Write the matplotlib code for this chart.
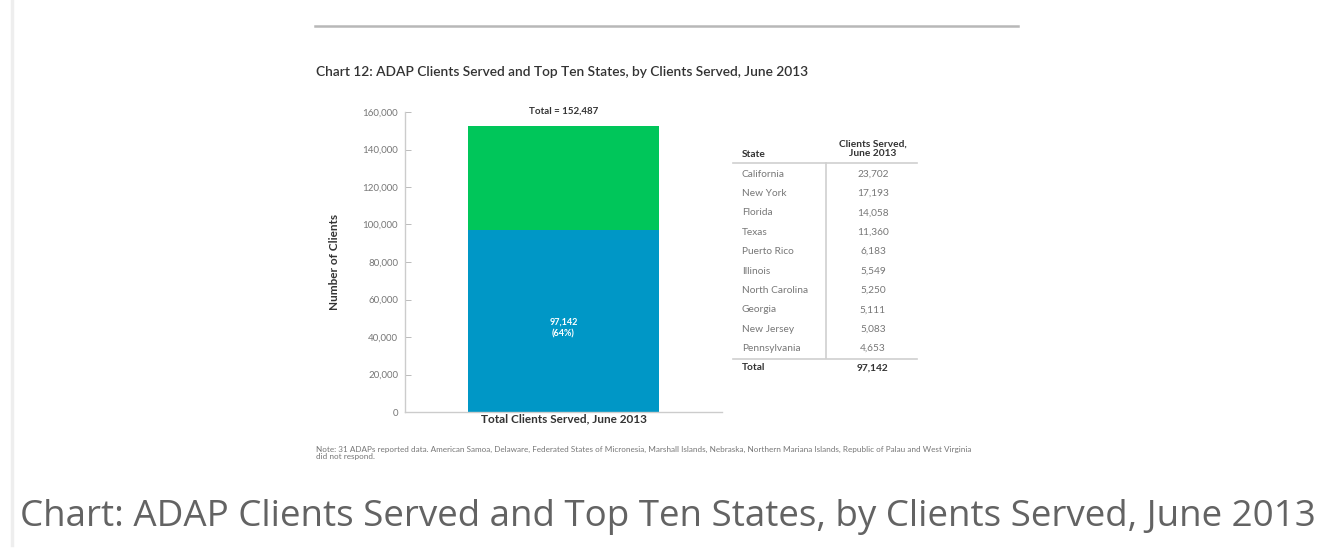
import matplotlib
matplotlib.use("Agg")
import matplotlib.pyplot as plt
from matplotlib.lines import Line2D

W, H = 1341, 556
FONT = ["Lato", "DejaVu Sans"]
BLUE, GREEN = "#0097c6", "#00c65a"

# data
total_served = 152487
top_ten_total = 97142
top_ten_share = 64
states = ["California", "New York", "Florida", "Texas", "Puerto Rico", "Illinois",
          "North Carolina", "Georgia", "New Jersey", "Pennsylvania"]
served = [23702, 17193, 14058, 11360, 6183, 5549, 5250, 5111, 5083, 4653]
yticks = [0, 20000, 40000, 60000, 80000, 100000, 120000, 140000, 160000]
category = "Total Clients Served, June 2013"

plt.rcParams["font.family"] = FONT
fig = plt.figure(figsize=(W / 100, H / 100), dpi=100)


def fx(x):
    return x / W


def fy(y):
    return 1 - y / H


def hline(x0, x1, y, color="#bdbdbd", lw=1.0):
    fig.add_artist(Line2D([fx(x0), fx(x1)], [fy(y), fy(y)], color=color, lw=lw,
                          transform=fig.transFigure))


def vline(x, y0, y1, color="#bdbdbd", lw=1.0):
    fig.add_artist(Line2D([fx(x), fx(x)], [fy(y0), fy(y1)], color=color, lw=lw,
                          transform=fig.transFigure))


# page decorations
vline(12, 0, 545, color="#eeeeee", lw=2.5)
hline(315, 1018, 26, color="#b8b8b8", lw=1.8)

fig.text(fx(316), fy(72), "Chart 12: ADAP Clients Served and Top Ten States, by Clients Served, June 2013",
         fontsize=9.9, color="#333333", va="center", ha="left", fontweight="semibold")

# bar chart
ax = fig.add_axes([fx(405), fy(412), fx(722) - fx(405), fy(112) - fy(412)])
ax.bar([0.5], [top_ten_total], width=0.6, color=BLUE)
ax.bar([0.5], [total_served - top_ten_total], bottom=[top_ten_total], width=0.6, color=GREEN)
ax.set_xlim(0, 1)
ax.set_ylim(0, 160000)
ax.set_yticks(yticks)
ax.set_yticklabels([f"{v:,}" for v in yticks], fontsize=7, color="#777777")
ax.set_xticks([])
ax.tick_params(axis="y", direction="in", length=4, width=0.7, color="#bbbbbb", pad=5)
for s in ("top", "right"):
    ax.spines[s].set_visible(False)
for s in ("left", "bottom"):
    ax.spines[s].set_color("#cccccc")
    ax.spines[s].set_linewidth(1.0)
ax.set_ylabel("Number of Clients", fontsize=8.5, color="#333333", fontweight="bold", labelpad=16)
ax.set_xlabel(category, fontsize=8.5, color="#333333", fontweight="bold", labelpad=1)
ax.text(0.5, total_served + 5500, f"Total = {total_served:,}", ha="center", va="bottom",
        fontsize=7, color="#333333", fontweight="bold")
ax.text(0.5, top_ten_total * 0.46, f"{top_ten_total:,}\n({top_ten_share}%)", ha="center",
        va="center", fontsize=6.5, color="white", fontweight="bold", linespacing=1.4)

# table
hdr_kw = dict(fontsize=7.3, color="#333333", fontweight="bold")
fig.text(fx(742), fy(154), "State", ha="left", va="center", **hdr_kw)
fig.text(fx(873), fy(149), "Clients Served,\nJune 2013", ha="center", va="center",
         linespacing=1.0, **hdr_kw)
hline(733, 917, 163, color="#cfcfcf", lw=1.2)
vline(826, 163, 358, color="#cfcfcf", lw=1.2)
row_y0, row_dy = 174, 19.4
for i, (st, v) in enumerate(zip(states, served)):
    yy = row_y0 + i * row_dy
    fig.text(fx(742), fy(yy), st, ha="left", va="center", fontsize=7.3, color="#777777")
    fig.text(fx(873), fy(yy), f"{v:,}", ha="center", va="center", fontsize=7.3, color="#777777")
hline(733, 917, 359, color="#cfcfcf", lw=1.2)
fig.text(fx(742), fy(368), "Total", ha="left", va="center", **hdr_kw)
fig.text(fx(873), fy(368), f"{top_ten_total:,}", ha="center", va="center", **hdr_kw)

# note
fig.text(fx(316), fy(453),
         "Note: 31 ADAPs reported data. American Samoa, Delaware, Federated States of Micronesia, "
         "Marshall Islands, Nebraska, Northern Mariana Islands, Republic of Palau and West Virginia\n"
         "did not respond.",
         ha="left", va="center", fontsize=5.9, color="#777777", linespacing=1.15)

# page caption
fig.text(fx(20), fy(517), "Chart: ADAP Clients Served and Top Ten States, by Clients Served, June 2013",
         ha="left", va="center", fontsize=26.5, color="#636363",
         family=["Open Sans", "DejaVu Sans"])

fig.savefig("out.png", dpi=100, facecolor="white")
